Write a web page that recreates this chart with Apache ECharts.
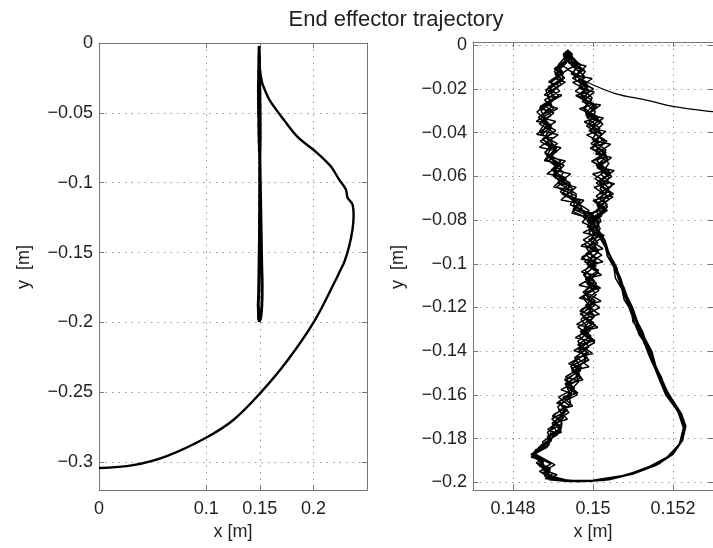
<!DOCTYPE html>
<html>
<head>
<meta charset="utf-8">
<script src="https://cdn.jsdelivr.net/npm/echarts@6/dist/echarts.min.js"></script>
<style>
html,body{margin:0;padding:0;background:#fff;}
#chart{width:713px;height:548px;}
</style>
</head>
<body>
<div id="chart"></div>
<script>
// ---- data (metres) ----
const titleText = 'End effector trajectory';
const xNameText = 'x [m]';
const yNameText = 'y  [m]';

const leftXTicks = [0, 0.1, 0.15, 0.2];
const leftYTicks = [0, -0.05, -0.1, -0.15, -0.2, -0.25, -0.3];
const rightXTicks = [0.148, 0.15, 0.152];
const rightYTicks = [0, -0.02, -0.04, -0.06, -0.08, -0.1, -0.12, -0.14, -0.16, -0.18, -0.2];

// reaching motion from the start point up to the oscillating region
const arcPath = [
  [0.0000,-0.3043],[0.0319,-0.3022],[0.0632,-0.2957],[0.1007,-0.2822],[0.1256,-0.2697],
  [0.1506,-0.2505],[0.1756,-0.2275],[0.2006,-0.1995],[0.2209,-0.1695],[0.2256,-0.1619],
  [0.2287,-0.1571],[0.2334,-0.1453],[0.2365,-0.1334],[0.2375,-0.1239],[0.2365,-0.1156],
  [0.2319,-0.1108],[0.2303,-0.1049],[0.2240,-0.0978],[0.2162,-0.0883],[0.2037,-0.0788],
  [0.1850,-0.0670],[0.1724,-0.0550],[0.1600,-0.0420],[0.1560,-0.0360]
];
const approachPath = [
  [0.15280,-0.0300],[0.15200,-0.0280],[0.15136,-0.0252],[0.15056,-0.0221],[0.14984,-0.0168]
];

// figure-eight cycles
const cycleA = [
  [0.14940,-0.003],[0.14933,-0.007],[0.14978,-0.011],[0.14949,-0.015],[0.14988,-0.019],[0.14962,-0.023],
  [0.15004,-0.027],[0.14981,-0.031],[0.15021,-0.035],[0.14990,-0.039],[0.15027,-0.043],[0.14995,-0.047],
  [0.15034,-0.051],[0.15008,-0.055],[0.15044,-0.059],[0.15008,-0.063],[0.15038,-0.067],[0.15006,-0.071],
  [0.15034,-0.075],[0.14996,-0.079],
  [0.14986,-0.083],[0.15015,-0.087],[0.14978,-0.091],[0.15011,-0.095],[0.14979,-0.099],[0.15014,-0.103],
  [0.14981,-0.107],[0.15011,-0.111],[0.14975,-0.115],[0.15004,-0.119],[0.14968,-0.123],[0.15002,-0.127],
  [0.14968,-0.131],[0.14999,-0.135],[0.14962,-0.139],[0.14986,-0.143],[0.14944,-0.147],[0.14967,-0.151],
  [0.14930,-0.155],[0.14957,-0.159],[0.14915,-0.163],[0.14936,-0.167],[0.14897,-0.171],[0.14922,-0.175],
  [0.14886,-0.179],[0.14890,-0.183],[0.14848,-0.187],
  [0.14870,-0.1895],[0.14895,-0.1915],[0.14872,-0.1940],[0.14900,-0.1960],[0.14885,-0.1980],[0.14920,-0.1990],
  [0.14960,-0.1995],[0.15010,-0.1992],[0.15085,-0.1967],[0.15145,-0.1927],[0.15190,-0.1882],[0.15218,-0.1822],
  [0.15228,-0.1747],[0.15216,-0.1680],
  [0.15190,-0.1610],[0.15172,-0.1550],[0.15160,-0.1490],[0.15148,-0.1430],[0.15132,-0.1370],[0.15118,-0.1310],
  [0.15104,-0.1250],[0.15096,-0.1190],[0.15080,-0.1130],[0.15070,-0.1070],[0.15056,-0.1010],[0.15040,-0.0950],
  [0.15028,-0.0890],[0.15006,-0.0830],
  [0.15000,-0.079],[0.14950,-0.075],[0.14968,-0.071],[0.14918,-0.067],[0.14943,-0.063],[0.14902,-0.059],
  [0.14928,-0.055],[0.14886,-0.051],[0.14909,-0.047],[0.14873,-0.043],[0.14907,-0.039],[0.14869,-0.035],
  [0.14902,-0.031],[0.14876,-0.027],[0.14914,-0.023],[0.14888,-0.019],[0.14929,-0.015],[0.14909,-0.011],
  [0.14938,-0.007],[0.14931,-0.003]
];
const cycleB = [
  [0.14940,-0.005],[0.14970,-0.009],[0.14945,-0.013],[0.14985,-0.017],[0.14956,-0.021],[0.14997,-0.025],
  [0.14975,-0.029],[0.15015,-0.033],[0.14984,-0.037],[0.15022,-0.041],[0.14995,-0.045],[0.15033,-0.049],
  [0.14998,-0.053],[0.15035,-0.057],[0.15005,-0.061],[0.15039,-0.065],[0.15008,-0.069],[0.15036,-0.073],
  [0.14994,-0.077],[0.15011,-0.081],
  [0.15012,-0.085],[0.14976,-0.089],[0.15007,-0.093],[0.14972,-0.097],[0.15008,-0.101],[0.14976,-0.105],
  [0.15009,-0.109],[0.14975,-0.113],[0.15006,-0.117],[0.14970,-0.121],[0.14999,-0.125],[0.14962,-0.129],
  [0.14995,-0.133],[0.14962,-0.137],[0.14989,-0.141],[0.14946,-0.145],[0.14969,-0.149],[0.14929,-0.153],
  [0.14954,-0.157],[0.14914,-0.161],[0.14942,-0.165],[0.14901,-0.169],[0.14923,-0.173],[0.14886,-0.177],
  [0.14896,-0.181],[0.14857,-0.185],[0.14846,-0.1885],
  [0.14878,-0.1900],[0.14866,-0.1925],[0.14893,-0.1948],[0.14878,-0.1970],[0.14905,-0.1985],[0.14935,-0.1993],
  [0.14990,-0.1994],[0.15060,-0.1977],[0.15125,-0.1942],[0.15178,-0.1897],[0.15212,-0.1838],[0.15229,-0.1762],
  [0.15221,-0.1692],
  [0.15195,-0.1620],[0.15176,-0.1560],[0.15163,-0.1500],[0.15150,-0.1440],[0.15136,-0.1380],[0.15114,-0.1320],
  [0.15108,-0.1260],[0.15090,-0.1200],[0.15084,-0.1140],[0.15066,-0.1080],[0.15060,-0.1020],[0.15042,-0.0960],
  [0.15030,-0.0900],[0.15010,-0.0840],
  [0.14973,-0.081],[0.14992,-0.077],[0.14943,-0.073],[0.14959,-0.069],[0.14909,-0.065],[0.14933,-0.061],
  [0.14896,-0.057],[0.14920,-0.053],[0.14879,-0.049],[0.14911,-0.045],[0.14871,-0.041],[0.14896,-0.037],
  [0.14863,-0.033],[0.14902,-0.029],[0.14879,-0.025],[0.14917,-0.021],[0.14894,-0.017],[0.14926,-0.013],
  [0.14913,-0.009],[0.14932,-0.005],[0.14936,-0.0025]
];
const cycleC = [
  [0.14944,-0.004],[0.14939,-0.008],[0.14981,-0.012],[0.14963,-0.016],[0.15001,-0.020],[0.14973,-0.024],
  [0.15009,-0.028],[0.14982,-0.032],[0.15025,-0.036],[0.15001,-0.040],[0.15035,-0.044],[0.15007,-0.048],
  [0.15037,-0.052],[0.15010,-0.056],[0.15047,-0.060],[0.15019,-0.064],[0.15051,-0.068],[0.15013,-0.072],
  [0.15032,-0.076],[0.15002,-0.080],
  [0.14991,-0.084],[0.15022,-0.088],[0.14991,-0.092],[0.15022,-0.096],[0.14984,-0.100],[0.15014,-0.104],
  [0.14981,-0.108],[0.15015,-0.112],[0.14985,-0.116],[0.15017,-0.120],[0.14976,-0.124],[0.15006,-0.128],
  [0.14972,-0.132],[0.15004,-0.136],[0.14966,-0.140],[0.14990,-0.144],[0.14946,-0.148],[0.14971,-0.152],
  [0.14935,-0.156],[0.14960,-0.160],[0.14918,-0.164],[0.14940,-0.168],[0.14906,-0.172],[0.14920,-0.176],
  [0.14895,-0.180],[0.14884,-0.184],[0.14855,-0.187],
  [0.14880,-0.1895],[0.14905,-0.1920],[0.14878,-0.1945],[0.14910,-0.1965],[0.14890,-0.1983],[0.14930,-0.1993],
  [0.14975,-0.1996],[0.15040,-0.1988],[0.15105,-0.1958],[0.15165,-0.1915],[0.15205,-0.1860],[0.15225,-0.1790],
  [0.15226,-0.1720],[0.15208,-0.1665],
  [0.15182,-0.1600],[0.15168,-0.1540],[0.15155,-0.1480],[0.15140,-0.1420],[0.15128,-0.1360],[0.15110,-0.1300],
  [0.15098,-0.1240],[0.15086,-0.1180],[0.15074,-0.1120],[0.15062,-0.1060],[0.15052,-0.1000],[0.15036,-0.0940],
  [0.15020,-0.0880],[0.15002,-0.0820],
  [0.14998,-0.080],[0.14949,-0.076],[0.14969,-0.072],[0.14922,-0.068],[0.14945,-0.064],[0.14901,-0.060],
  [0.14922,-0.056],[0.14881,-0.052],[0.14907,-0.048],[0.14868,-0.044],[0.14902,-0.040],[0.14866,-0.036],
  [0.14896,-0.032],[0.14868,-0.028],[0.14907,-0.024],[0.14885,-0.020],[0.14925,-0.016],[0.14903,-0.012],
  [0.14931,-0.008],[0.14926,-0.004],[0.14937,-0.0022]
];
const cycleD = [
  [0.14940,-0.003],[0.14962,-0.008],[0.14950,-0.013],[0.14986,-0.018],[0.14970,-0.023],[0.15003,-0.028],
  [0.14985,-0.033],[0.15017,-0.038],[0.14998,-0.043],[0.15032,-0.048],[0.15010,-0.053],[0.15042,-0.058],
  [0.15016,-0.063],[0.15044,-0.068],[0.15010,-0.073],[0.15022,-0.078],
  [0.14988,-0.083],[0.15010,-0.088],[0.14984,-0.093],[0.15008,-0.098],[0.14980,-0.103],[0.15004,-0.108],
  [0.14976,-0.113],[0.15001,-0.118],[0.14972,-0.123],[0.14996,-0.128],[0.14966,-0.133],[0.14990,-0.138],
  [0.14954,-0.143],[0.14971,-0.148],[0.14935,-0.153],[0.14951,-0.158],[0.14916,-0.163],[0.14930,-0.168],
  [0.14898,-0.173],[0.14912,-0.178],[0.14870,-0.183],[0.14848,-0.187],
  [0.14875,-0.191],[0.14880,-0.195],[0.14905,-0.1985],[0.14950,-0.1992],[0.15010,-0.1990],[0.15085,-0.1965],
  [0.15145,-0.1925],[0.15190,-0.1880],[0.15218,-0.1820],[0.15228,-0.1745],[0.15216,-0.1680],
  [0.15189,-0.160],[0.15162,-0.150],[0.15147,-0.140],[0.15118,-0.130],[0.15099,-0.120],[0.15072,-0.110],
  [0.15059,-0.102],[0.15038,-0.095],[0.15025,-0.088],[0.15004,-0.082],
  [0.14996,-0.078],[0.14952,-0.073],[0.14958,-0.068],[0.14912,-0.063],[0.14926,-0.058],[0.14890,-0.053],
  [0.14908,-0.048],[0.14875,-0.043],[0.14895,-0.038],[0.14864,-0.033],[0.14898,-0.028],[0.14886,-0.023],
  [0.14920,-0.018],[0.14905,-0.013],[0.14934,-0.008],[0.14930,-0.004]
];
const cycleE = [
  [0.14934,-0.0025],[0.14938,-0.0055],[0.14968,-0.0105],[0.14955,-0.0155],[0.14990,-0.0205],[0.14974,-0.0255],
  [0.15006,-0.0305],[0.14990,-0.0355],[0.15022,-0.0405],[0.15002,-0.0455],[0.15034,-0.0505],[0.15012,-0.0555],
  [0.15040,-0.0605],[0.15018,-0.0655],[0.15040,-0.0705],[0.15008,-0.0755],
  [0.15020,-0.0805],[0.14990,-0.0855],[0.15012,-0.0905],[0.14982,-0.0955],[0.15006,-0.1005],[0.14978,-0.1055],
  [0.15003,-0.1105],[0.14974,-0.1155],[0.14998,-0.1205],[0.14970,-0.1255],[0.14993,-0.1305],[0.14962,-0.1355],
  [0.14984,-0.1405],[0.14950,-0.1455],[0.14966,-0.1505],[0.14932,-0.1555],[0.14946,-0.1605],[0.14912,-0.1655],
  [0.14926,-0.1705],[0.14895,-0.1755],[0.14892,-0.1805],[0.14858,-0.1855],[0.14846,-0.1880],
  [0.14870,-0.1905],[0.14876,-0.1940],[0.14892,-0.1970],[0.14935,-0.1990],[0.14990,-0.1993],[0.15070,-0.1975],
  [0.15130,-0.1940],[0.15180,-0.1895],[0.15214,-0.1835],[0.15230,-0.1760],[0.15220,-0.1690],
  [0.15192,-0.1610],[0.15168,-0.1510],[0.15142,-0.1410],[0.15124,-0.1310],[0.15095,-0.1210],[0.15078,-0.1110],
  [0.15055,-0.1030],[0.15043,-0.0960],[0.15020,-0.0890],[0.15008,-0.0830],
  [0.14975,-0.0785],[0.14990,-0.0755],[0.14946,-0.0705],[0.14948,-0.0655],[0.14905,-0.0605],[0.14920,-0.0555],
  [0.14884,-0.0505],[0.14902,-0.0455],[0.14870,-0.0405],[0.14888,-0.0355],[0.14860,-0.0305],[0.14894,-0.0255],
  [0.14882,-0.0205],[0.14918,-0.0155],[0.14908,-0.0105],[0.14938,-0.0060],[0.14936,-0.0035]
];
const cycleF = [
  [0.14948,-0.0040],[0.14945,-0.0090],[0.14978,-0.0140],[0.14966,-0.0190],[0.14998,-0.0240],[0.14980,-0.0290],
  [0.15012,-0.0340],[0.14995,-0.0390],[0.15028,-0.0440],[0.15008,-0.0490],[0.15040,-0.0540],[0.15020,-0.0590],
  [0.15048,-0.0640],[0.15022,-0.0690],[0.15036,-0.0740],[0.15004,-0.0790],
  [0.15018,-0.0840],[0.14992,-0.0890],[0.15014,-0.0940],[0.14990,-0.0990],[0.15012,-0.1040],[0.14985,-0.1090],
  [0.15008,-0.1140],[0.14982,-0.1190],[0.15004,-0.1240],[0.14978,-0.1290],[0.14996,-0.1340],[0.14968,-0.1390],
  [0.14982,-0.1440],[0.14955,-0.1490],[0.14964,-0.1540],[0.14938,-0.1590],[0.14944,-0.1640],[0.14918,-0.1690],
  [0.14922,-0.1740],[0.14900,-0.1790],[0.14885,-0.1840],[0.14855,-0.1868],
  [0.14872,-0.1900],[0.14884,-0.1950],[0.14898,-0.1980],[0.14945,-0.1994],[0.15000,-0.1990],[0.15080,-0.1968],
  [0.15138,-0.1930],[0.15185,-0.1885],[0.15216,-0.1825],[0.15226,-0.1750],[0.15212,-0.1675],
  [0.15184,-0.1595],[0.15160,-0.1495],[0.15142,-0.1395],[0.15116,-0.1295],[0.15094,-0.1195],[0.15070,-0.1095],
  [0.15054,-0.1015],[0.15036,-0.0945],[0.15018,-0.0875],[0.15000,-0.0815],
  [0.14980,-0.0775],[0.14968,-0.0735],[0.14935,-0.0690],[0.14940,-0.0645],[0.14900,-0.0595],[0.14915,-0.0545],
  [0.14880,-0.0495],[0.14898,-0.0445],[0.14866,-0.0395],[0.14884,-0.0345],[0.14870,-0.0300],[0.14902,-0.0250],
  [0.14892,-0.0200],[0.14925,-0.0150],[0.14915,-0.0100],[0.14940,-0.0055],[0.14938,-0.0030]
];
const cycleG = [
  [0.14946,-0.0040],[0.14940,-0.0078],[0.14983,-0.0095],[0.14956,-0.0138],[0.14998,-0.0152],[0.14964,-0.0197],
  [0.15003,-0.0214],[0.14973,-0.0258],[0.15019,-0.0273],[0.14987,-0.0318],[0.15026,-0.0333],[0.14989,-0.0377],
  [0.15032,-0.0394],[0.15002,-0.0437],[0.15044,-0.0453],[0.15006,-0.0498],[0.15046,-0.0514],[0.15015,-0.0557],
  [0.15053,-0.0574],[0.15016,-0.0618],[0.15054,-0.0633],[0.15016,-0.0677],[0.15050,-0.0694],[0.15011,-0.0738],
  [0.15036,-0.0755],[0.15004,-0.0790],
  [0.15015,-0.0820],[0.14975,-0.0857],[0.15012,-0.0874],[0.14970,-0.0918],[0.15007,-0.0933],[0.14970,-0.0978],
  [0.15011,-0.0994],[0.14971,-0.1037],[0.15007,-0.1053],[0.14965,-0.1098],[0.15005,-0.1114],[0.14966,-0.1157],
  [0.15005,-0.1173],[0.14967,-0.1218],[0.15001,-0.1233],[0.14959,-0.1277],[0.14995,-0.1294],[0.14956,-0.1338],
  [0.14993,-0.1353],[0.14952,-0.1397],[0.14981,-0.1414],[0.14939,-0.1457],[0.14972,-0.1473],[0.14931,-0.1518],
  [0.14961,-0.1534],[0.14920,-0.1577],[0.14947,-0.1593],[0.14909,-0.1637],[0.14934,-0.1654],[0.14898,-0.1697],
  [0.14921,-0.1713],[0.14887,-0.1757],[0.14906,-0.1774],[0.14874,-0.1815],[0.14877,-0.1836],[0.14845,-0.1872],
  [0.14872,-0.1893],[0.14858,-0.1912],[0.14888,-0.1930],[0.14866,-0.1950],[0.14896,-0.1968],[0.14880,-0.1982],
  [0.14915,-0.1992],[0.14965,-0.1997],[0.15030,-0.1990],[0.15100,-0.1962],[0.15158,-0.1922],[0.15200,-0.1872],
  [0.15224,-0.1808],[0.15232,-0.1742],[0.15220,-0.1682],
  [0.15196,-0.1615],[0.15180,-0.1565],[0.15170,-0.1515],[0.15155,-0.1465],[0.15146,-0.1415],[0.15128,-0.1365],
  [0.15120,-0.1315],[0.15100,-0.1265],[0.15096,-0.1215],[0.15078,-0.1165],[0.15072,-0.1115],[0.15056,-0.1065],
  [0.15052,-0.1015],[0.15036,-0.0965],[0.15030,-0.0915],[0.15014,-0.0865],[0.15004,-0.0820],
  [0.14990,-0.0790],[0.14947,-0.0768],[0.14968,-0.0724],[0.14920,-0.0708],[0.14948,-0.0663],[0.14902,-0.0648],
  [0.14928,-0.0603],[0.14885,-0.0588],[0.14920,-0.0543],[0.14878,-0.0527],[0.14911,-0.0484],[0.14866,-0.0467],
  [0.14900,-0.0423],[0.14859,-0.0407],[0.14896,-0.0363],[0.14858,-0.0348],[0.14898,-0.0304],[0.14866,-0.0288],
  [0.14906,-0.0243],[0.14878,-0.0227],[0.14916,-0.0184],[0.14889,-0.0168],[0.14924,-0.0124],[0.14903,-0.0108],
  [0.14934,-0.0066],[0.14930,-0.0040],[0.14936,-0.0028]
];
const cycleH = [
  [0.14944,-0.0050],[0.14963,-0.0091],[0.14935,-0.0110],[0.14979,-0.0151],[0.14949,-0.0170],[0.14991,-0.0211],
  [0.14957,-0.0230],[0.14998,-0.0271],[0.14966,-0.0290],[0.15012,-0.0331],[0.14978,-0.0350],[0.15018,-0.0391],
  [0.14984,-0.0410],[0.15027,-0.0451],[0.14993,-0.0470],[0.15032,-0.0511],[0.14996,-0.0530],[0.15035,-0.0571],
  [0.14999,-0.0590],[0.15039,-0.0631],[0.15003,-0.0650],[0.15038,-0.0691],[0.15000,-0.0710],[0.15027,-0.0751],
  [0.14995,-0.0770],
  [0.15016,-0.0805],[0.14989,-0.0829],[0.15028,-0.0871],[0.14989,-0.0889],[0.15025,-0.0931],[0.14986,-0.0949],
  [0.15025,-0.0991],[0.14987,-0.1009],[0.15021,-0.1051],[0.14982,-0.1069],[0.15019,-0.1111],[0.14981,-0.1129],
  [0.15020,-0.1171],[0.14981,-0.1189],[0.15016,-0.1231],[0.14977,-0.1249],[0.15012,-0.1291],[0.14971,-0.1309],
  [0.15005,-0.1351],[0.14966,-0.1369],[0.14999,-0.1411],[0.14959,-0.1429],[0.14990,-0.1471],[0.14947,-0.1489],
  [0.14975,-0.1531],[0.14936,-0.1549],[0.14962,-0.1591],[0.14925,-0.1609],[0.14949,-0.1651],[0.14914,-0.1669],
  [0.14936,-0.1711],[0.14903,-0.1729],[0.14921,-0.1771],[0.14891,-0.1789],[0.14890,-0.1825],[0.14858,-0.1855],
  [0.14848,-0.1878],
  [0.14876,-0.1898],[0.14862,-0.1918],[0.14894,-0.1938],[0.14872,-0.1958],[0.14902,-0.1975],[0.14890,-0.1988],
  [0.14940,-0.1996],[0.15000,-0.1995],[0.15075,-0.1972],[0.15140,-0.1933],[0.15188,-0.1887],[0.15216,-0.1828],
  [0.15230,-0.1755],[0.15222,-0.1688],
  [0.15193,-0.1612],[0.15172,-0.1552],[0.15162,-0.1492],[0.15146,-0.1432],[0.15134,-0.1372],[0.15116,-0.1312],
  [0.15106,-0.1252],[0.15088,-0.1192],[0.15082,-0.1132],[0.15064,-0.1072],[0.15058,-0.1012],[0.15040,-0.0952],
  [0.15030,-0.0892],[0.15010,-0.0835],
  [0.14985,-0.0805],[0.15002,-0.0769],[0.14953,-0.0751],[0.14977,-0.0709],[0.14929,-0.0691],[0.14958,-0.0649],
  [0.14913,-0.0631],[0.14944,-0.0589],[0.14901,-0.0571],[0.14931,-0.0529],[0.14889,-0.0511],[0.14920,-0.0469],
  [0.14880,-0.0451],[0.14913,-0.0409],[0.14872,-0.0391],[0.14907,-0.0349],[0.14872,-0.0331],[0.14912,-0.0289],
  [0.14881,-0.0271],[0.14922,-0.0229],[0.14893,-0.0211],[0.14931,-0.0169],[0.14905,-0.0151],[0.14938,-0.0109],
  [0.14921,-0.0091],[0.14936,-0.0055],[0.14937,-0.0030]
];

const reachPath = [].concat(arcPath, approachPath);
const loopPath = [].concat(cycleA, cycleG, cycleD, cycleB, cycleH, cycleE, cycleC, cycleF);

// ---- chart ----
const FONT = '"Liberation Sans", Arial, Helvetica, sans-serif';
const AXIS_COLOR = '#777';
const GRID_COLOR = '#999';
const fmt = v => String(+Number(v).toFixed(4)).replace('-', '\u2212');

function axisCommon(ticks, showLabel, isX) {
  return {
    type: 'value',
    axisLine: {show: true, onZero: false, lineStyle: {color: AXIS_COLOR, width: 1}},
    axisTick: {show: true, inside: true, length: 5, customValues: ticks, lineStyle: {color: AXIS_COLOR}},
    axisLabel: {show: showLabel, customValues: ticks, formatter: fmt, color: '#222', fontSize: 18,
                fontFamily: FONT, margin: isX ? 10 : 6, showMinLabel: true, showMaxLabel: true},
    splitLine: {show: showLabel, lineStyle: {color: GRID_COLOR, width: 1, type: [1.5, 5]}}
  };
}

const chart = echarts.init(document.getElementById('chart'), null, {renderer: 'canvas'});
const option = {
  animation: false,
  backgroundColor: '#fff',
  title: {text: titleText, left: 391, top: 4, textAlign: 'center',
          textStyle: {fontFamily: FONT, fontSize: 22, fontWeight: 'normal', color: '#222'}},
  grid: [
    {left: 99, top: 43, width: 268, height: 447},
    {left: 473, top: 42, width: 249, height: 448}
  ],
  xAxis: [
    Object.assign(axisCommon(leftXTicks, true, true), {gridIndex: 0, position: 'bottom', min: 0, max: 0.25,
      name: xNameText, nameLocation: 'middle', nameGap: 33,
      nameTextStyle: {fontFamily: FONT, fontSize: 18, color: '#222'}}),
    Object.assign(axisCommon(leftXTicks, false, true), {gridIndex: 0, position: 'top', min: 0, max: 0.25}),
    Object.assign(axisCommon(rightXTicks, true, true), {gridIndex: 1, position: 'bottom', min: 0.147, max: 0.153,
      name: xNameText, nameLocation: 'middle', nameGap: 33,
      nameTextStyle: {fontFamily: FONT, fontSize: 18, color: '#222'}}),
    Object.assign(axisCommon(rightXTicks, false, true), {gridIndex: 1, position: 'top', min: 0.147, max: 0.153})
  ],
  yAxis: [
    Object.assign(axisCommon(leftYTicks, true, false), {gridIndex: 0, position: 'left', min: -0.32, max: 0}),
    Object.assign(axisCommon(leftYTicks, false, false), {gridIndex: 0, position: 'right', min: -0.32, max: 0}),
    Object.assign(axisCommon(rightYTicks, true, false), {gridIndex: 1, position: 'left', min: -0.2035, max: 0.0015}),
    Object.assign(axisCommon(rightYTicks, false, false), {gridIndex: 1, position: 'right', min: -0.2035, max: 0.0015})
  ],
  graphic: [
    {type: 'text', x: 24, y: 267, rotation: Math.PI / 2,
     style: {text: yNameText, font: '18px ' + FONT, fill: '#222', align: 'center', verticalAlign: 'middle'}},
    {type: 'text', x: 398, y: 267, rotation: Math.PI / 2,
     style: {text: yNameText, font: '18px ' + FONT, fill: '#222', align: 'center', verticalAlign: 'middle'}}
  ],
  series: [
    {type: 'line', xAxisIndex: 0, yAxisIndex: 0, data: reachPath, showSymbol: false, clip: true, smooth: 0.35,
     lineStyle: {color: '#000', width: 2.4}, silent: true},
    {type: 'line', xAxisIndex: 0, yAxisIndex: 0, data: loopPath, showSymbol: false, clip: true,
     lineStyle: {color: '#000', width: 2.8}, silent: true},
    {type: 'line', xAxisIndex: 2, yAxisIndex: 2, data: reachPath, showSymbol: false, clip: true, smooth: 0.35,
     lineStyle: {color: '#000', width: 1.3}, silent: true},
    {type: 'line', xAxisIndex: 2, yAxisIndex: 2, data: loopPath, showSymbol: false, clip: true,
     lineStyle: {color: '#000', width: 1.5}, silent: true}
  ]
};
chart.setOption(option);
</script>
</body>
</html>
